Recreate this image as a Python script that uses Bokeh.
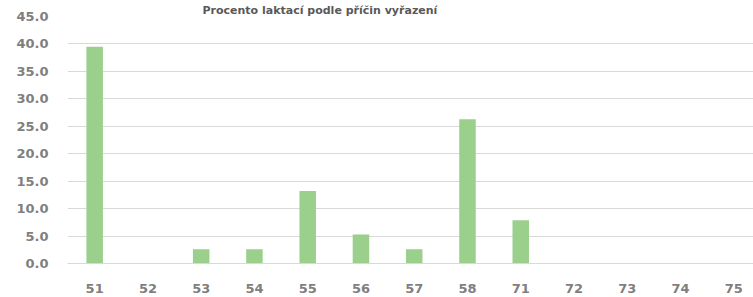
from bokeh.plotting import figure
from bokeh.models import Range1d, FixedTicker, NumeralTickFormatter, ColumnDataSource
from bokeh.embed import file_html
from bokeh.resources import INLINE

title_text = "Procento laktací podle příčin vyřazení"
categories = ["51", "52", "53", "54", "55", "56", "57", "58", "71", "72", "73", "74", "75"]
values = [39.5, 0.0, 2.6, 2.6, 13.2, 5.3, 2.6, 26.3, 7.9, 0.0, 0.0, 0.0, 0.0]
y_ticks = [0, 5, 10, 15, 20, 25, 30, 35, 40, 45]

xs = list(range(len(categories)))
src = ColumnDataSource(dict(x=xs, top=values))

FONT = "DejaVu Sans"
GRAY = "#7f7f7f"
W, H = 753, 297
LEFT, RIGHT, TOP, BOTTOM = 67, 0, 16, 34

p = figure(width=W, height=H, output_backend="svg", toolbar_location=None,
           x_range=Range1d(-0.51, len(categories) - 1 + 0.37),
           y_range=Range1d(0, 45),
           min_border_left=LEFT, min_border_right=RIGHT,
           min_border_top=TOP, min_border_bottom=BOTTOM)
p.outline_line_color = None
p.background_fill_color = "white"
p.border_fill_color = "white"

# chart title above the plot area
p.title.text = title_text
p.title.align = "left"
p.title.offset = 135
p.title.standoff = 0
p.title.text_font = FONT
p.title.text_font_style = "bold"
p.title.text_font_size = "11px"
p.title.text_color = "#595959"

p.vbar(x="x", top="top", bottom=0, width=0.31, source=src,
       fill_color="#9bcf8c", line_color=None)

# axes
p.xaxis.ticker = FixedTicker(ticks=xs)
p.xaxis.major_label_overrides = {i: c for i, c in enumerate(categories)}
p.xaxis.axis_line_color = "#d9d9d9"
p.xaxis.major_tick_line_color = None
p.xaxis.minor_tick_line_color = None
p.xaxis.major_label_standoff = 14
p.xaxis.major_label_text_font = FONT
p.xaxis.major_label_text_font_style = "bold"
p.xaxis.major_label_text_font_size = "13px"
p.xaxis.major_label_text_color = GRAY

p.yaxis.ticker = FixedTicker(ticks=y_ticks)
p.yaxis.formatter = NumeralTickFormatter(format="0.0")
p.yaxis.axis_line_color = None
p.yaxis.major_tick_line_color = None
p.yaxis.minor_tick_line_color = None
p.yaxis.major_label_standoff = 13
p.yaxis.major_label_text_font = FONT
p.yaxis.major_label_text_font_style = "bold"
p.yaxis.major_label_text_font_size = "13px"
p.yaxis.major_label_text_color = GRAY

p.xgrid.grid_line_color = None
p.ygrid.ticker = FixedTicker(ticks=y_ticks)
p.ygrid.grid_line_color = "#d9d9d9"
p.ygrid.grid_line_width = 1

open("out.html", "w").write(file_html(p, INLINE))
